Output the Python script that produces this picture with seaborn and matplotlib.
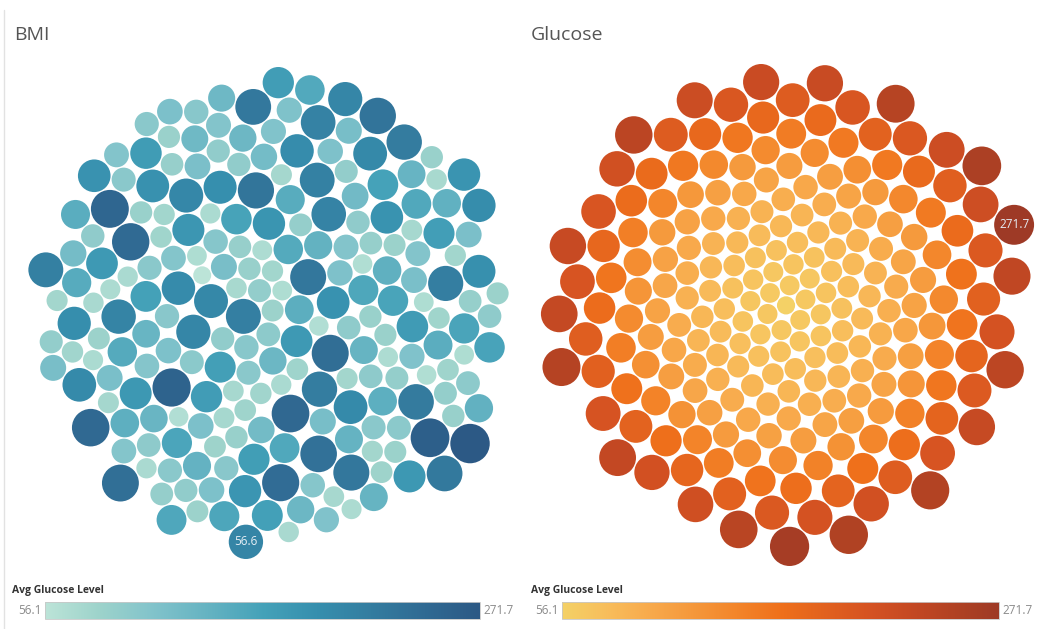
import numpy as np
import matplotlib
matplotlib.use("Agg")
import matplotlib.pyplot as plt
from matplotlib.patches import Circle
import seaborn as sns

# avg glucose level per BMI group, in the order the groups are packed in the BMI view
avg_glucose = [
    84, 214, 93, 68, 145, 99, 176, 79,
    226, 74, 104, 131, 88, 66, 187, 201,
    95, 152, 69, 118, 239, 82, 101, 168,
    89, 205, 113, 72, 139, 97, 183, 56.1,
    218, 80, 105, 157, 91, 75, 196, 163,
    100, 68, 248, 109, 136, 87, 78, 172,
    82, 209, 103, 67, 148, 114, 180, 229,
    107, 86, 161, 124, 71, 199, 98, 142,
    255, 90, 76, 119, 166, 96, 134, 191,
    69, 102, 212, 88, 155, 81, 115, 174,
    106, 203, 77, 125, 144, 85, 185, 234,
    92, 117, 66, 170, 111, 137, 79, 207,
    83, 244, 95, 72, 151, 122, 178, 101,
    195, 108, 68, 133, 93, 159, 116, 221,
    76, 164, 103, 87, 241, 70, 146, 188,
    113, 81, 216, 94, 138, 67, 176, 130,
    100, 227, 78, 117, 154, 84, 182, 110, 200,
    89, 105, 169, 73, 143, 98, 251, 82, 127,
    210, 85, 114, 71, 160, 102, 135, 77, 193,
    109, 92, 262, 79, 149, 119, 173, 96, 83,
    224, 101, 75, 131, 90, 167, 112, 198, 68,
    94, 141, 107, 190, 86, 72, 219, 121, 158,
    80, 99, 246, 116, 136, 88, 179, 104, 74,
    231, 91, 111, 162, 84, 147, 204, 70, 128,
    97, 78, 186, 108, 153, 87, 238, 115, 171,
    93, 213, 73, 140, 102, 194, 118, 206, 271.7,
    85, 156, 184, 223,
]

glucose_min = 56.1
glucose_max = 271.7

bmi_label = "56.6"          # BMI group shown with a mark label
bmi_label_glucose = 206     # its avg glucose level

teal_blues = ["#bce4d8", "#9dd3cb", "#81c3cb", "#65b3c2", "#45a2b9",
              "#368fae", "#347da0", "#306a93", "#2c5985"]
gold_orange = ["#f4d166", "#f8be5c", "#f8aa4c", "#f5983b", "#f3852a", "#ef701b",
               "#e2621f", "#d65322", "#c54923", "#b14223", "#9e3a26"]

W, H = 1054, 629


def pack_circles(radii, pad=1.4):
    # greedy front packing: each circle goes to the free tangent spot closest to the centre
    r = np.asarray(radii, float) + pad / 2
    n = len(r)
    pos = np.zeros((n, 2))
    pos[1] = [r[0] + r[1], 0]
    for k in range(2, n):
        P, R, rk = pos[:k], r[:k], r[k]
        i, j = np.triu_indices(k, 1)
        dvec = P[j] - P[i]
        d = np.hypot(dvec[:, 0], dvec[:, 1])
        a = R[i] + rk
        b = R[j] + rk
        m = (d < a + b) & (d > np.abs(a - b))
        i, d, a, b, dvec = i[m], d[m], a[m], b[m], dvec[m]
        x = (a ** 2 - b ** 2 + d ** 2) / (2 * d)
        h = np.sqrt(np.clip(a ** 2 - x ** 2, 0, None))
        u = dvec / d[:, None]
        base = P[i] + u * x[:, None]
        perp = np.column_stack([-u[:, 1], u[:, 0]])
        cand = np.vstack([base + perp * h[:, None], base - perp * h[:, None]])
        dist = np.hypot(cand[:, None, 0] - P[None, :, 0],
                        cand[:, None, 1] - P[None, :, 1])
        ok = np.all(dist >= R[None, :] + rk - 1e-6, axis=1)
        cand = cand[ok]
        pos[k] = cand[np.argmin(np.hypot(cand[:, 0], cand[:, 1]))]
    return pos


def draw_bubbles(ax, values, cmap, centre, box, label_idx, label_text, label_angle):
    values = np.asarray(values, float)
    radii = 1.245 * np.sqrt(values)
    pos = pack_circles(radii)
    mid = (pos.min(axis=0) + pos.max(axis=0)) / 2
    pos = pos - mid
    # turn the layout so the labelled bubble sits where it does in the dashboard
    cur = np.arctan2(pos[label_idx, 1], pos[label_idx, 0])
    t = label_angle - cur
    rot = np.array([[np.cos(t), -np.sin(t)], [np.sin(t), np.cos(t)]])
    pos = pos @ rot.T
    lo = (pos - radii[:, None]).min(axis=0)
    hi = (pos + radii[:, None]).max(axis=0)
    s = min(box[0] / (hi[0] - lo[0]), box[1] / (hi[1] - lo[1]))
    pos = (pos - (lo + hi) / 2) * s + np.asarray(centre)
    radii = radii * s
    norm = plt.Normalize(glucose_min, glucose_max)
    for (cx, cy), rr, v in zip(pos, radii, values):
        ax.add_patch(Circle((cx, cy), rr, facecolor=cmap(norm(v)),
                            edgecolor="none"))
    lx, ly = pos[label_idx]
    ax.text(lx, ly, label_text, ha="center", va="center", fontsize=8.5,
            color="#e6eef5", family=["Open Sans", "DejaVu Sans"])


def draw_legend(ax, x0, cmap, bar_x0, bar_x1):
    ax.text(x0, 590, "Avg Glucose Level", ha="left", va="center", fontsize=7.5,
            fontweight="bold", color="#333333", family=["Open Sans", "DejaVu Sans"])
    grad = np.linspace(0, 1, 256)[None, :]
    ax.imshow(grad, cmap=cmap, aspect="auto", extent=[bar_x0, bar_x1, 619, 602],
              zorder=2)
    ax.add_patch(plt.Rectangle((bar_x0, 602), bar_x1 - bar_x0, 17, fill=False,
                               edgecolor="#c8c8c8", linewidth=0.6, zorder=3))
    ax.text(bar_x0 - 3, 611, f"{glucose_min}", ha="right", va="center", fontsize=8.5,
            color="#8a8a8a", family=["Open Sans", "DejaVu Sans"])
    ax.text(bar_x1 + 3, 611, f"{glucose_max}", ha="left", va="center", fontsize=8.5,
            color="#8a8a8a", family=["Open Sans", "DejaVu Sans"])


sns.set_style("white")
teal_cmap = sns.blend_palette(teal_blues, as_cmap=True)
gold_cmap = sns.blend_palette(gold_orange, as_cmap=True)

fig = plt.figure(figsize=(W / 100, H / 100), dpi=100)
ax = fig.add_axes([0, 0, 1, 1])
ax.set_xlim(0, W)
ax.set_ylim(H, 0)
ax.axis("off")

# left dashboard border
ax.plot([4, 4], [10, H], color="#e2e2e2", linewidth=1)

ax.text(14, 35, "BMI", ha="left", va="center", fontsize=14, color="#555555",
        family=["Open Sans", "DejaVu Sans"])
ax.text(531, 35, "Glucose", ha="left", va="center", fontsize=14, color="#555555",
        family=["Open Sans", "DejaVu Sans"])

# BMI view: groups packed in their own order
bmi_idx = avg_glucose.index(bmi_label_glucose)
draw_bubbles(ax, avg_glucose, teal_cmap, (268.5, 313), (513, 492), bmi_idx, bmi_label,
             np.arctan2(545 - 313, 243 - 268.5))

# Glucose view: groups packed by increasing glucose
sorted_glucose = sorted(avg_glucose)
max_idx = len(sorted_glucose) - 1
draw_bubbles(ax, sorted_glucose, gold_cmap, (787.5, 315), (515, 502), max_idx,
             f"{glucose_max}", np.arctan2(233 - 315, 1022 - 787.5))

draw_legend(ax, 12, teal_cmap, 45, 480)
draw_legend(ax, 531, gold_cmap, 562, 999)

fig.savefig("out.png", dpi=100)
